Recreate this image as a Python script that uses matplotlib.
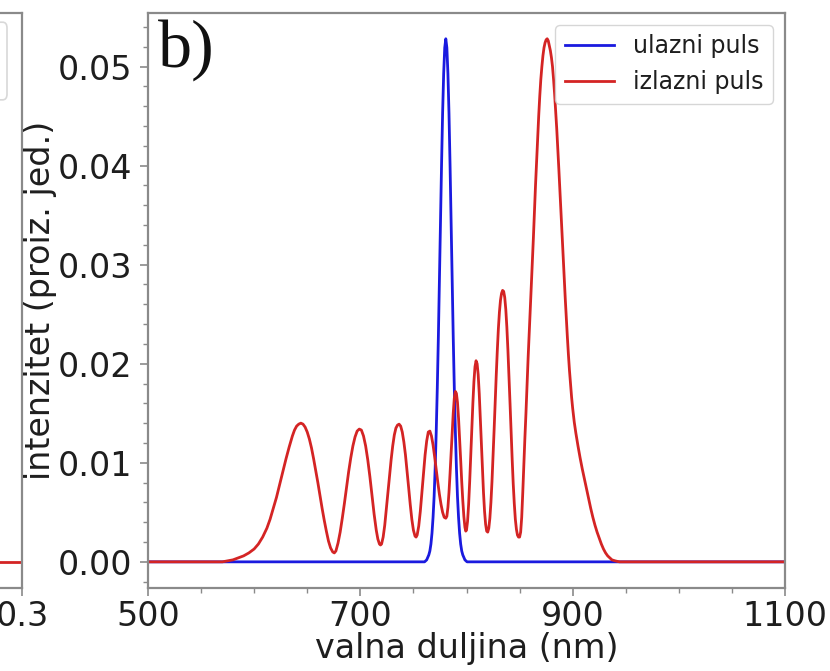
import matplotlib
matplotlib.use("Agg")
import matplotlib.pyplot as plt
from matplotlib.ticker import MultipleLocator
from matplotlib.patches import FancyBboxPatch

# ---- data ----
blue_nm = [500, 758.5, 760.5, 762.5, 764.5, 765.5, 766.5, 767.5, 768.5, 769.5, 770.5, 771.5,
           772.5, 773.5, 774.5, 775.5, 776.5, 777.5, 778.5, 779.5, 780.5, 781.5, 782.5,
           783.5, 784.5, 785.5, 786.5, 787.5, 788.5, 789.5, 790.5, 791.5, 792.5, 793.5,
           794.5, 795.5, 796.5, 798.5, 800.5, 802.5, 1100]
blue_val = [0.0, 0.0, 0.0, 0.0002, 0.0007, 0.0011, 0.0018, 0.0029, 0.0045, 0.0066, 0.0095,
            0.0132, 0.0176, 0.0227, 0.0285, 0.0343, 0.0401, 0.0453, 0.0493, 0.0519, 0.0528,
            0.0519, 0.0493, 0.0453, 0.0401, 0.0343, 0.0285, 0.0227, 0.0176, 0.0132, 0.0095,
            0.0066, 0.0045, 0.0029, 0.0018, 0.0011, 0.0007, 0.0002, 0.0, 0.0, 0.0]

red_nm = [500, 565, 570, 575, 580, 585, 590, 595, 600, 604, 608, 612, 615, 618, 621, 624,
          627, 630, 633, 636, 638, 640, 642, 644, 646, 648, 650, 652, 654, 656, 658, 660,
          662, 664, 666, 668, 670, 672, 674, 675.5, 677,
          679, 681, 683, 685, 687, 689, 691, 693, 695, 697, 699, 701, 703, 705, 707, 709,
          711, 713, 715, 716.5, 718, 719, 720,
          721.5, 723, 724.5, 726, 727.5, 729, 730.5, 732, 733.5, 735, 736.5, 738, 739.5,
          741, 742.5, 744, 745.5, 747, 748.5, 750, 751.5, 752.5, 753.5,
          755, 756.5, 758, 759.5, 761, 762.5, 764, 765.5, 767, 768.5, 770, 771.5, 773,
          774.5, 776, 777.5, 779, 780.5, 781.5,
          782.5, 783.5, 784.5, 785.5, 786.5, 787.5, 788.5, 789.5, 790.5, 791.5, 792.5,
          793.5, 794.5, 795.5, 796.5, 797.5, 798.5, 799.3, 800,
          801, 802, 803, 804, 805, 806, 807, 808, 809, 810, 811, 812, 813, 814, 815, 816,
          817, 818, 819, 820, 821,
          822, 823, 824, 825, 826, 827, 828, 829, 830, 831, 832, 833, 834, 835, 836, 837,
          838, 839, 840, 841, 842, 843, 844, 845, 846, 847, 848, 849, 850,
          851, 852, 853, 854, 855, 856, 857, 858, 859, 860, 861, 862, 863, 864, 865, 866,
          867, 868, 869, 870, 871, 872, 873, 874, 875, 876, 877, 878, 879, 880, 881, 882,
          883, 884, 885, 886, 887, 888, 889, 890, 891, 892, 893, 894, 895, 896, 897, 898,
          899, 900, 901.5, 903, 905, 907, 909, 911, 913, 915, 917, 919, 921, 923, 925, 927,
          929, 931, 933, 935, 937, 940, 944, 1100]
red_val = [0.0, 0.0, 0.0, 0.0001, 0.0002, 0.0004, 0.0006, 0.0009, 0.0013, 0.0018, 0.0025,
           0.0034, 0.0043, 0.0054, 0.0065, 0.0078, 0.0091, 0.0104, 0.0116, 0.0127, 0.0133,
           0.0137, 0.0139, 0.0140, 0.0139, 0.0136, 0.0131, 0.0124, 0.0115, 0.0104, 0.0092,
           0.0080, 0.0067, 0.0054, 0.0042, 0.0031, 0.0021, 0.0014, 0.0010, 0.0009, 0.0011,
           0.0019, 0.0030, 0.0044, 0.0059, 0.0075, 0.0091, 0.0105, 0.0117, 0.0126, 0.0132,
           0.0134, 0.0133, 0.0127, 0.0117, 0.0103, 0.0086, 0.0067, 0.0048, 0.0032, 0.0023,
           0.0018, 0.0017, 0.0018,
           0.0025, 0.0037, 0.0053, 0.0070, 0.0087, 0.0103, 0.0117, 0.0128, 0.0135, 0.0138,
           0.0139, 0.0137, 0.0131, 0.0121, 0.0108, 0.0092, 0.0075, 0.0058, 0.0043, 0.0032,
           0.0026, 0.0025, 0.0027,
           0.0036, 0.0051, 0.0070, 0.0090, 0.0108, 0.0122, 0.0131, 0.0132, 0.0127, 0.0118,
           0.0106, 0.0093, 0.0080, 0.0068, 0.0058, 0.0050, 0.0045, 0.0044, 0.0046,
           0.0055, 0.0070, 0.0089, 0.0110, 0.0131, 0.0150, 0.0165, 0.0172, 0.0170, 0.0161,
           0.0145, 0.0125, 0.0103, 0.0081, 0.0062, 0.0046, 0.0035, 0.0031, 0.0032,
           0.0041, 0.0058, 0.0081, 0.0107, 0.0134, 0.0160, 0.0182, 0.0197, 0.0203, 0.0200,
           0.0189, 0.0170, 0.0146, 0.0120, 0.0094, 0.0070, 0.0051, 0.0038, 0.0031, 0.0030,
           0.0034,
           0.0044, 0.0060, 0.0081, 0.0106, 0.0133, 0.0161, 0.0188, 0.0213, 0.0235, 0.0252,
           0.0264, 0.0271, 0.0274, 0.0273, 0.0267, 0.0255, 0.0237, 0.0214, 0.0188, 0.0160,
           0.0131, 0.0104, 0.0079, 0.0059, 0.0043, 0.0033, 0.0027, 0.0025, 0.0025,
           0.0030, 0.0045, 0.0070, 0.0098, 0.0125, 0.0150, 0.0178, 0.0205, 0.0230, 0.0255,
           0.0278, 0.0302, 0.0327, 0.0354, 0.0380, 0.0404, 0.0427, 0.0450, 0.0470, 0.0487,
           0.0500, 0.0511, 0.0519, 0.0524, 0.0527, 0.0528, 0.0526, 0.0521, 0.0516, 0.0509,
           0.0500, 0.0487, 0.0472, 0.0455, 0.0437, 0.0417, 0.0396, 0.0374, 0.0352, 0.0330,
           0.0308, 0.0287, 0.0266, 0.0246, 0.0227, 0.0209, 0.0193, 0.0179, 0.0166, 0.0155,
           0.0141, 0.0130, 0.0117, 0.0105, 0.0094, 0.0084, 0.0074, 0.0064, 0.0054, 0.0045,
           0.0037, 0.0030, 0.0024, 0.0018, 0.0013, 0.0009, 0.0006, 0.0004, 0.0002, 0.0001,
           0.0, 0.0]

labels = ["ulazni puls", "izlazni puls"]
x_ticks = [500, 700, 900, 1100]
y_ticks = [0.00, 0.01, 0.02, 0.03, 0.04, 0.05]
left_x_ticks = [0.3]

BLUE = "#1a1adf"
RED = "#d42424"
SPINE = "#8a8a8a"
TXT = "#1e1e1e"

fig = plt.figure(figsize=(8.30, 6.71), dpi=100)

def style(ax):
    for s in ax.spines.values():
        s.set_color(SPINE)
        s.set_linewidth(1.6)
    ax.tick_params(which="major", length=6, width=1.2, color=SPINE,
                   labelsize=24, labelcolor=TXT, pad=5)
    ax.tick_params(which="minor", length=3.5, width=1.0, color=SPINE)

# ---- partial left panel (only its right edge shows) ----
axl = fig.add_axes([-0.5, 0.1237, 0.5265, 0.8569])
axl.plot([-0.3, 0.3], [0, 0], color=RED, lw=2)
axl.set_xlim(-0.3, 0.3)
axl.set_ylim(-0.00264, 0.0554)
axl.set_xticks(left_x_ticks)
axl.set_xticklabels(["0.3"])
axl.set_yticks([])
style(axl)
axl.tick_params(axis="x", which="major", pad=3)
axl.add_patch(FancyBboxPatch((0.5, 0.849), 0.4657, 0.135, transform=axl.transAxes,
                             boxstyle="round,pad=0,rounding_size=0.01",
                             facecolor="white", edgecolor="#d8d8d8", lw=1.2, zorder=5))

# ---- main panel ----
ax = fig.add_axes([0.1783, 0.1237, 0.7675, 0.8569])
ax.plot(blue_nm, blue_val, color=BLUE, lw=2.0, label=labels[0])
ax.plot(red_nm, red_val, color=RED, lw=2.0, label=labels[1])
ax.set_xlim(500, 1100)
ax.set_ylim(-0.00264, 0.0554)
ax.set_xticks(x_ticks)
ax.set_yticks(y_ticks)
ax.set_yticklabels([f"{v:.2f}" for v in y_ticks])
ax.xaxis.set_minor_locator(MultipleLocator(50))
ax.yaxis.set_minor_locator(MultipleLocator(0.002))
style(ax)
ax.tick_params(axis="x", which="major", pad=3)
ax.set_xlabel("valna duljina (nm)", fontsize=24, color=TXT, labelpad=-1)
ax.set_ylabel("intenzitet (proiz. jed.)", fontsize=24, color=TXT, labelpad=1)
ax.text(0.016, 0.99, "b)", transform=ax.transAxes, ha="left", va="top",
        fontsize=49, family="Liberation Serif", color="#111111")
leg = ax.legend(loc="upper right", fontsize=17, framealpha=0.8, handlelength=2.1)
for t in leg.get_texts():
    t.set_color(TXT)

fig.savefig("out.png", dpi=100)
